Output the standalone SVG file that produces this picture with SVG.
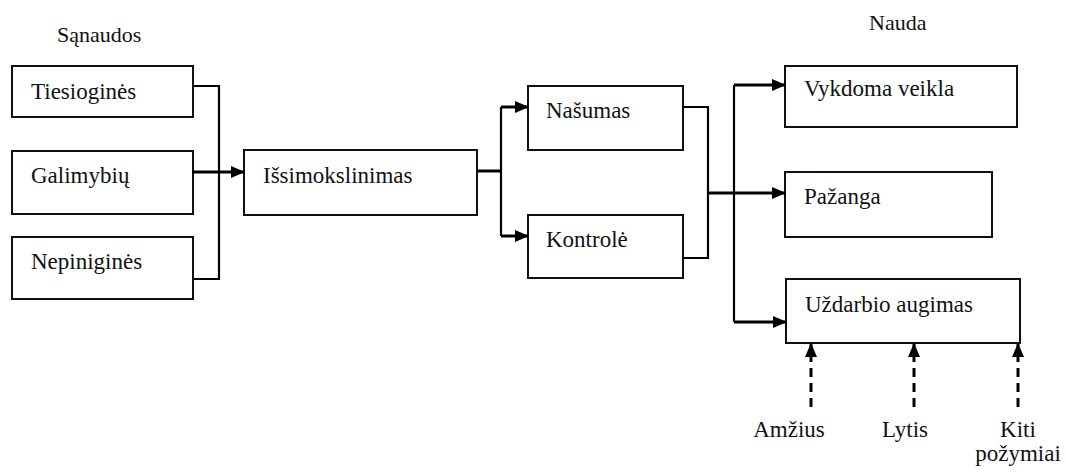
<svg xmlns="http://www.w3.org/2000/svg" width="1066" height="473" viewBox="0 0 1066 473">
  <style>
    text { font-family: "Liberation Serif", "Times New Roman", serif !important; fill: #111; }
    .box { fill: #fff; stroke: #111; stroke-width: 2; }
    .ln { fill: none; stroke: #000; stroke-width: 2.2; }
    .ar { fill: none; stroke: #000; stroke-width: 3; }
    .dash { fill: none; stroke: #000; stroke-width: 3; stroke-dasharray: 9 6; }
  </style>
  <defs>
    <marker id="head" markerUnits="userSpaceOnUse" markerWidth="14" markerHeight="14" refX="13" refY="7" orient="auto">
      <path d="M0,1 L14,7 L0,13 z" fill="#000"/>
    </marker>
  </defs>

  <rect width="1066" height="473" fill="#fff"/>

  <!-- column headings -->
  <text x="57" y="42" font-family="Liberation Serif" font-size="22">Sąnaudos</text>
  <text x="869" y="30" font-family="Liberation Serif" font-size="22">Nauda</text>

  <!-- costs -->
  <g id="n-tiesiogines"><rect class="box" x="12" y="66" width="181" height="51"/><text x="31" y="99" font-family="Liberation Serif" font-size="23">Tiesioginės</text></g>
  <g id="n-galimybiu"><rect class="box" x="12" y="151" width="181" height="63"/><text x="31" y="183" font-family="Liberation Serif" font-size="23">Galimybių</text></g>
  <g id="n-nepinigines"><rect class="box" x="12" y="237" width="181" height="62"/><text x="31" y="269" font-family="Liberation Serif" font-size="23">Nepiniginės</text></g>

  <!-- training -->
  <g id="n-issimokslinimas"><rect class="box" x="244" y="150" width="233" height="65"/><text x="263" y="183" font-family="Liberation Serif" font-size="23">Išsimokslinimas</text></g>

  <!-- intermediate outcomes -->
  <g id="n-nasumas"><rect class="box" x="528" y="86" width="155" height="64"/><text x="546" y="118" font-family="Liberation Serif" font-size="23">Našumas</text></g>
  <g id="n-kontrole"><rect class="box" x="528" y="215" width="155" height="63"/><text x="546" y="247" font-family="Liberation Serif" font-size="23">Kontrolė</text></g>

  <!-- benefits -->
  <g id="n-vykdoma"><rect class="box" x="785" y="66" width="232" height="61"/><text x="804" y="96" font-family="Liberation Serif" font-size="23">Vykdoma veikla</text></g>
  <g id="n-pazanga"><rect class="box" x="785" y="172" width="207" height="65"/><text x="804" y="204" font-family="Liberation Serif" font-size="23">Pažanga</text></g>
  <g id="n-uzdarbio"><rect class="box" x="786" y="279" width="234" height="64"/><text x="805" y="312" font-family="Liberation Serif" font-size="23">Uždarbio augimas</text></g>

  <!-- moderating factors -->
  <g id="n-amzius"><text x="789" y="437" text-anchor="middle" font-family="Liberation Serif" font-size="23">Amžius</text></g>
  <g id="n-lytis"><text x="905" y="437" text-anchor="middle" font-family="Liberation Serif" font-size="23">Lytis</text></g>
  <g id="n-kiti"><text x="1018" y="437" text-anchor="middle" font-family="Liberation Serif" font-size="23">Kiti</text><text x="1018" y="461" text-anchor="middle" font-family="Liberation Serif" font-size="23">požymiai</text></g>

  <g id="connectors">
    <path class="ln" d="M193,86 H219 V279 H193"/>
    <path class="ar" d="M192,172 H244" marker-end="url(#head)"/>

    <path class="ar" d="M477,171 H501"/>
    <path class="ln" d="M501,107 V236"/>
    <path class="ar" d="M501,107 H528" marker-end="url(#head)"/>
    <path class="ar" d="M501,236 H528" marker-end="url(#head)"/>

    <path class="ln" d="M683,107 H708 V258 H683"/>
    <path class="ar" d="M708,193 H785" marker-end="url(#head)"/>
    <path class="ln" d="M734,85 V322"/>
    <path class="ar" d="M734,85 H785" marker-end="url(#head)"/>
    <path class="ar" d="M734,322 H786" marker-end="url(#head)"/>

    <path class="dash" d="M811,407 V344" marker-end="url(#head)"/>
    <path class="dash" d="M914,407 V344" marker-end="url(#head)"/>
    <path class="dash" d="M1018,407 V344" marker-end="url(#head)"/>
  </g>
</svg>
